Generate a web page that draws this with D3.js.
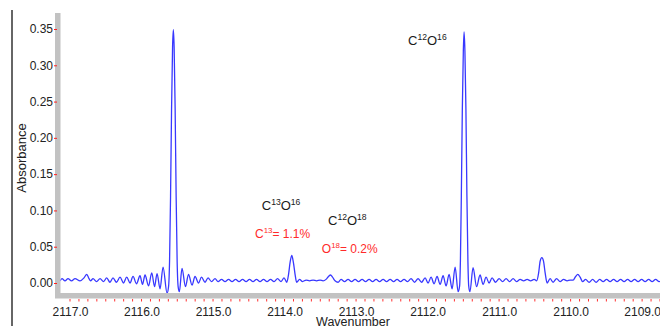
<!DOCTYPE html>
<html>
<head>
<meta charset="utf-8">
<script src="https://cdn.jsdelivr.net/npm/d3@7"></script>
<style>
  body { margin: 0; background: #fff; }
  svg { display: block; font-family: "Liberation Sans", Arial, sans-serif; }
</style>
</head>
<body>
<svg id="spectrumVis" width="660" height="326"></svg>
<script>
// tick labels
const yTicks = [0, 0.05, 0.10, 0.15, 0.20, 0.25, 0.30, 0.35];
const xTicks = [2117, 2116, 2115, 2114, 2113, 2112, 2111, 2110, 2109];

// spectrum: [wavenumber, absorbance]
const spectrum = [
  [2117.140, 0.003], [2117.112, 0.006], [2117.070, 0.003], [2117.028, 0.006],
  [2116.979, 0.003], [2116.930, 0.006], [2116.860, 0.003], [2116.804, 0.007],
  [2116.766, 0.012], [2116.734, 0.006], [2116.713, 0.003], [2116.678, 0.006],
  [2116.629, 0.002], [2116.580, 0.006], [2116.531, 0.002], [2116.487, 0.007],
  [2116.441, 0.001], [2116.399, 0.007], [2116.350, 0.001], [2116.301, 0.008],
  [2116.252, 0.000], [2116.207, 0.008], [2116.161, 0.000], [2116.119, 0.009],
  [2116.070, -0.001], [2116.021, 0.010], [2115.986, -0.002], [2115.951, 0.011],
  [2115.902, -0.004], [2115.857, 0.014], [2115.818, -0.005], [2115.783, 0.013],
  [2115.741, -0.008], [2115.699, 0.022], [2115.643, -0.014], [2115.622, -0.005],
  [2115.608, 0.030], [2115.594, 0.120], [2115.580, 0.240], [2115.566, 0.325],
  [2115.555, 0.349], [2115.544, 0.325], [2115.530, 0.240], [2115.516, 0.120],
  [2115.502, 0.030], [2115.488, -0.005], [2115.471, -0.012], [2115.434, 0.020],
  [2115.385, -0.005], [2115.343, 0.012], [2115.294, -0.003], [2115.252, 0.009],
  [2115.203, 0.000], [2115.161, 0.008], [2115.112, 0.001], [2115.070, 0.007],
  [2115.021, 0.002], [2114.972, 0.006], [2114.930, 0.002], [2114.881, 0.005],
  [2114.832, 0.002], [2114.783, 0.005], [2114.734, 0.002], [2114.685, 0.005],
  [2114.636, 0.002], [2114.587, 0.005], [2114.538, 0.002], [2114.490, 0.005],
  [2114.441, 0.002], [2114.392, 0.005], [2114.343, 0.002], [2114.294, 0.005],
  [2114.245, 0.002], [2114.196, 0.005], [2114.147, 0.002], [2114.098, 0.006],
  [2114.049, 0.002], [2114.007, 0.007], [2113.969, 0.001], [2113.944, 0.012],
  [2113.923, 0.028], [2113.899, 0.038], [2113.876, 0.028], [2113.853, 0.012],
  [2113.831, 0.001], [2113.790, 0.005], [2113.748, 0.002], [2113.699, 0.004],
  [2113.650, 0.003], [2113.601, 0.004], [2113.552, 0.003], [2113.503, 0.004],
  [2113.462, 0.003], [2113.420, 0.005], [2113.385, 0.009], [2113.357, 0.011],
  [2113.329, 0.008], [2113.294, 0.003], [2113.252, 0.001], [2113.210, 0.005],
  [2113.161, 0.002], [2113.112, 0.005], [2113.063, 0.002], [2113.014, 0.005],
  [2112.965, 0.002], [2112.916, 0.005], [2112.867, 0.002], [2112.818, 0.005],
  [2112.769, 0.002], [2112.720, 0.005], [2112.671, 0.002], [2112.622, 0.005],
  [2112.573, 0.002], [2112.524, 0.005], [2112.475, 0.002], [2112.427, 0.005],
  [2112.378, 0.002], [2112.329, 0.005], [2112.280, 0.002], [2112.231, 0.006],
  [2112.182, 0.001], [2112.133, 0.006], [2112.084, 0.001], [2112.035, 0.007],
  [2111.993, 0.000], [2111.951, 0.008], [2111.909, -0.001], [2111.867, 0.009],
  [2111.825, -0.002], [2111.783, 0.010], [2111.741, -0.004], [2111.699, 0.012],
  [2111.657, -0.008], [2111.615, 0.022], [2111.573, -0.012], [2111.552, -0.004],
  [2111.541, 0.030], [2111.528, 0.120], [2111.514, 0.240], [2111.500, 0.320],
  [2111.490, 0.346], [2111.478, 0.320], [2111.464, 0.240], [2111.450, 0.120],
  [2111.436, 0.030], [2111.425, -0.004], [2111.408, -0.012], [2111.364, 0.021],
  [2111.315, -0.005], [2111.266, 0.011], [2111.224, -0.002], [2111.182, 0.008],
  [2111.140, 0.000], [2111.098, 0.007], [2111.049, 0.001], [2111.000, 0.006],
  [2110.951, 0.002], [2110.902, 0.006], [2110.853, 0.002], [2110.804, 0.006],
  [2110.755, 0.002], [2110.706, 0.005], [2110.657, 0.003], [2110.608, 0.005],
  [2110.559, 0.003], [2110.510, 0.005], [2110.475, 0.003], [2110.447, 0.014],
  [2110.426, 0.030], [2110.402, 0.035], [2110.379, 0.030], [2110.356, 0.014],
  [2110.328, 0.000], [2110.287, 0.006], [2110.245, 0.001], [2110.196, 0.006],
  [2110.147, 0.002], [2110.098, 0.005], [2110.049, 0.003], [2110.007, 0.004],
  [2109.965, 0.004], [2109.930, 0.009], [2109.899, 0.012], [2109.867, 0.008],
  [2109.832, 0.002], [2109.790, 0.005], [2109.741, 0.001], [2109.692, 0.005],
  [2109.643, 0.001], [2109.594, 0.005], [2109.545, 0.002], [2109.497, 0.005],
  [2109.448, 0.002], [2109.399, 0.005], [2109.350, 0.002], [2109.301, 0.005],
  [2109.252, 0.002], [2109.203, 0.005], [2109.154, 0.002], [2109.105, 0.005],
  [2109.056, 0.002], [2109.007, 0.005], [2108.958, 0.002], [2108.909, 0.005],
  [2108.860, 0.002], [2108.811, 0.005], [2108.762, 0.002], [2108.720, 0.004]
];

// isotope annotations, anchored in data units: [wavenumber, absorbance]
const annotations = [
  { parts: [["C"], ["12", 1], ["O"], ["16", 1]], at: [2112.273, 0.328], color: "#1a1a1a", size: 13 },
  { parts: [["C"], ["13", 1], ["O"], ["16", 1]], at: [2114.319, 0.1006], color: "#1a1a1a", size: 13 },
  { parts: [["C"], ["12", 1], ["O"], ["18", 1]], at: [2113.392, 0.0799], color: "#1a1a1a", size: 13 },
  { parts: [["C"], ["13", 1], ["= 1.1%"]], at: [2114.413, 0.062], color: "#ff2a2a", size: 12 },
  { parts: [["O"], ["18", 1], ["= 0.2%"]], at: [2113.479, 0.0418], color: "#ff2a2a", size: 12 }
];

const svg = d3.select('svg#spectrumVis');

const x = d3.scaleLinear()
    .domain([2117.14, 2108.75])
    .range([60, 660]);

const y = d3.scaleLinear()
    .domain([0, 0.35])
    .range([283, 29]);

// black frame line on the far left
svg.append('line')
    .attr('x1', 12).attr('x2', 12)
    .attr('y1', 10).attr('y2', 326)
    .attr('stroke', '#333')
    .attr('stroke-width', 1.5);

// grey axis bars
svg.append('rect')
    .attr('x', 55).attr('y', 13)
    .attr('width', 5.5).attr('height', 285)
    .attr('fill', '#c2c2c2');

svg.append('rect')
    .attr('x', 55).attr('y', 293)
    .attr('width', 605).attr('height', 5.5)
    .attr('fill', '#c2c2c2');

// y axis
const yAxis = svg.append('g')
    .attr('class', 'y-axis')
    .attr('transform', 'translate(57,0)')
    .call(d3.axisLeft(y).tickValues(yTicks).tickFormat(d3.format('.2f')).tickSize(3).tickPadding(1))
    .call(g => g.select('.domain').remove());

yAxis.selectAll('.tick line').attr('stroke', '#ff2020');
yAxis.selectAll('.tick text')
    .attr('fill', '#222')
    .style('font-size', '12px')
    .style('font-family', '"Liberation Sans", Arial, sans-serif');

// minor red ticks under the bottom bar
const minor = d3.range(2117, 2108.74, -0.125);
svg.append('g')
    .selectAll('line')
    .data(minor)
    .enter()
    .append('line')
    .attr('x1', d => x(d)).attr('x2', d => x(d))
    .attr('y1', 299).attr('y2', 301.5)
    .attr('stroke', '#ff3030')
    .attr('stroke-width', 1);

// x axis labels
const xAxis = svg.append('g')
    .attr('class', 'x-axis')
    .attr('transform', 'translate(0,298)')
    .call(d3.axisBottom(x).tickValues(xTicks).tickFormat(d3.format('.1f')).tickSize(0).tickPadding(9))
    .call(g => g.select('.domain').remove());

xAxis.selectAll('.tick text')
    .attr('fill', '#222')
    .style('font-size', '12px')
    .style('font-family', '"Liberation Sans", Arial, sans-serif');

// axis titles
svg.append('text')
    .attr('transform', 'translate(26,158) rotate(-90)')
    .attr('text-anchor', 'middle')
    .attr('fill', '#222')
    .style('font-size', '13px')
    .text('Absorbance');

svg.append('text')
    .attr('x', 353).attr('y', 326)
    .attr('text-anchor', 'middle')
    .attr('fill', '#222')
    .style('font-size', '12.5px')
    .text('Wavenumber');

// the spectrum
svg.append('clipPath')
    .attr('id', 'plotClip')
    .append('rect')
    .attr('x', 60.5).attr('y', 0)
    .attr('width', 600).attr('height', 293);

const line = d3.line()
    .x(d => x(d[0]))
    .y(d => y(d[1]))
    .curve(d3.curveMonotoneX);

svg.append('path')
    .datum(spectrum)
    .attr('clip-path', 'url(#plotClip)')
    .attr('fill', 'none')
    .attr('stroke', '#3838ff')
    .attr('stroke-width', 1.3)
    .attr('stroke-linejoin', 'round')
    .attr('d', line);

// isotope labels with superscripts
annotations.forEach(a => {
    const t = svg.append('text')
        .attr('x', x(a.at[0]))
        .attr('y', y(a.at[1]))
        .attr('fill', a.color)
        .style('font-size', a.size + 'px');
    let raised = false;
    a.parts.forEach(p => {
        const sup = !!p[1];
        const span = t.append('tspan').text(p[0]);
        if (sup && !raised) span.attr('dy', -5).style('font-size', (a.size * 0.66) + 'px');
        if (sup && raised) span.style('font-size', (a.size * 0.66) + 'px');
        if (!sup && raised) span.attr('dy', 5);
        raised = sup;
    });
});
</script>
</body>
</html>
